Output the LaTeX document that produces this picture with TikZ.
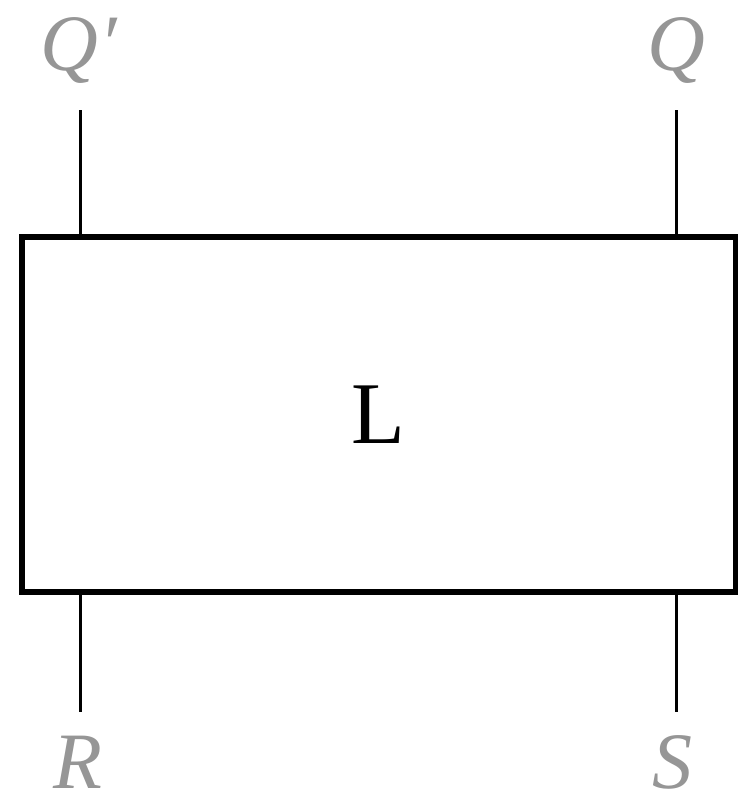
\documentclass[tikz,border=0pt]{standalone}
\usepackage{fontspec}
\setmainfont{Liberation Serif}
\definecolor{lbl}{RGB}{150,150,150}
\begin{document}
\begin{tikzpicture}[x=1pt,y=-1pt,
  wire/.style={line width=3pt,black},
  lab/.style={text=lbl,font=\fontsize{80}{84}\selectfont\itshape,inner sep=0pt,anchor=base}]
\useasboundingbox (0,0) rectangle (738,806);
\node[draw=black,line width=5.5pt,minimum width=714pt,minimum height=355pt,inner sep=0pt] (L) at (379,414.5) {};
\node[font=\fontsize{88}{92}\selectfont,inner sep=0pt,anchor=base] (Lt) at (378,443) {L};
\coordinate (a1) at (80,110);
\coordinate (a2) at (80,237);
\coordinate (b1) at (676,110);
\coordinate (b2) at (676,237);
\coordinate (c1) at (80,592);
\coordinate (c2) at (80,712);
\coordinate (d1) at (676,592);
\coordinate (d2) at (676,712);
\draw[wire] (a1) -- (a2);
\draw[wire] (b1) -- (b2);
\draw[wire] (c1) -- (c2);
\draw[wire] (d1) -- (d2);
\node[lab] (qp) at (69,70) {Q\rlap{\hspace{2pt}′}};
\node[lab] (q) at (676,70) {Q};
\node[lab] (r) at (78,788) {R};
\node[lab] (s) at (672,788) {S};
\end{tikzpicture}
\end{document}
